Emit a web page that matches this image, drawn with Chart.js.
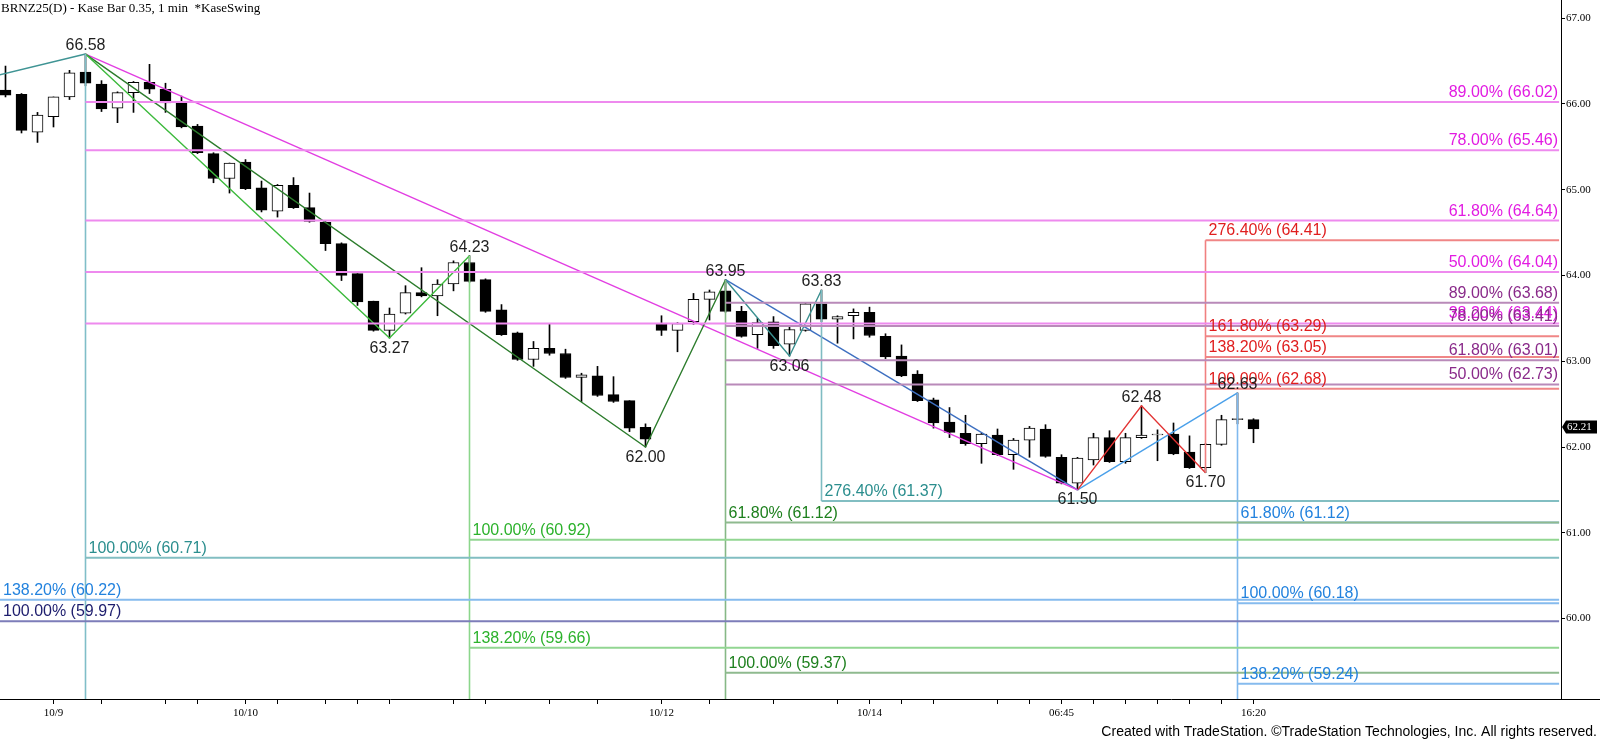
<!DOCTYPE html>
<html>
<head>
<meta charset="utf-8">
<title>BRNZ25 Kase Bar</title>
<script src="https://cdn.jsdelivr.net/npm/chart.js@4.4.1/dist/chart.umd.min.js"></script>
<style>
    html, body { margin: 0; padding: 0; background: #fff; }
    #contenedor { width: 1600px; height: 739px; position: relative; }
</style>
</head>
<body>
<div id="contenedor"><canvas id="grafico"></canvas></div>
<script>
// Precios de cada barra (el índice es la posición de la barra)
const aperturas = [66.16, 66.11, 65.67, 65.85, 66.08, 66.37, 66.23, 65.95, 66.13, 66.25,
    66.17, 66.01, 65.74, 65.42, 65.13, 65.32, 65.02, 64.75, 65.05, 64.79,
    64.62, 64.37, 64.02, 63.70, 63.36, 63.56, 63.80, 63.76, 63.90, 64.15,
    63.95, 63.60, 63.33, 63.02, 63.15, 63.09, 62.81, 62.83, 62.61, 62.54,
    62.23, 63.44, 63.36, 63.46, 63.72, 63.82, 63.58, 63.31, 63.46, 63.20,
    63.36, 63.67, 63.49, 63.53, 63.57, 63.29, 63.06, 62.85, 62.55, 62.29,
    62.16, 62.04, 62.14, 61.91, 62.08, 62.21, 61.88, 61.58, 61.85, 62.11,
    61.83, 62.11, 62.14, 62.15, 61.94, 61.76, 62.03, 62.32, 62.32];
const maximos = [66.44, 66.12, 65.90, 66.08, 66.39, 66.58, 66.27, 66.14, 66.26, 66.46,
    66.24, 66.09, 65.76, 65.43, 65.31, 65.35, 65.10, 65.06, 65.14, 64.96,
    64.63, 64.38, 64.02, 63.70, 63.62, 63.88, 64.09, 63.95, 64.17, 64.23,
    63.96, 63.66, 63.34, 63.23, 63.44, 63.14, 62.86, 62.94, 62.82, 62.54,
    62.27, 63.53, 63.45, 63.79, 63.83, 63.95, 63.64, 63.50, 63.52, 63.41,
    63.68, 63.83, 63.53, 63.61, 63.63, 63.32, 63.19, 62.89, 62.57, 62.46,
    62.37, 62.16, 62.21, 62.10, 62.24, 62.26, 61.91, 61.88, 62.16, 62.19,
    62.16, 62.48, 62.20, 62.28, 62.13, 62.04, 62.37, 62.63, 62.33];
const minimos = [66.08, 65.66, 65.55, 65.73, 66.05, 66.21, 65.91, 65.78, 65.90, 66.12,
    65.90, 65.72, 65.42, 65.08, 64.96, 65.00, 64.74, 64.68, 64.78, 64.62,
    64.29, 63.94, 63.65, 63.35, 63.27, 63.55, 63.75, 63.53, 63.82, 63.92,
    63.57, 63.30, 63.01, 62.94, 63.07, 62.80, 62.53, 62.59, 62.52, 62.18,
    62.00, 63.30, 63.11, 63.43, 63.48, 63.57, 63.28, 63.15, 63.15, 63.06,
    63.35, 63.46, 63.21, 63.26, 63.28, 63.03, 62.82, 62.53, 62.22, 62.11,
    62.02, 61.81, 61.90, 61.74, 61.88, 61.88, 61.57, 61.50, 61.79, 61.82,
    61.81, 62.10, 61.84, 61.91, 61.75, 61.70, 62.02, 62.27, 62.05];
const cierres = [66.10, 65.69, 65.87, 66.08, 66.36, 66.24, 65.94, 66.13, 66.25, 66.17,
    66.01, 65.73, 65.43, 65.13, 65.31, 65.01, 64.76, 65.05, 64.79, 64.63,
    64.37, 64.00, 63.69, 63.36, 63.55, 63.80, 63.76, 63.90, 64.15, 63.93,
    63.58, 63.31, 63.02, 63.15, 63.09, 62.81, 62.84, 62.60, 62.53, 62.22,
    62.09, 63.36, 63.44, 63.72, 63.81, 63.58, 63.29, 63.45, 63.18, 63.37,
    63.67, 63.49, 63.52, 63.57, 63.30, 63.05, 62.83, 62.54, 62.28, 62.17,
    62.04, 62.15, 61.91, 62.08, 62.22, 61.89, 61.58, 61.87, 62.11, 61.83,
    62.11, 62.14, 62.152, 61.92, 61.76, 62.03, 62.32, 62.332, 62.21];

// Marcas del eje X (posición de barra) y las que llevan texto
const ticksX = [3, 6, 10, 12, 15, 17, 20, 22, 24, 28, 30, 34, 37, 41, 44, 48,
    52, 54, 56, 58, 62, 64, 66, 68, 70, 72, 74, 76, 78];
const posFechas = [3, 15, 41, 54, 66, 78];
const textoFechas = ['10/9', '10/10', '10/12', '10/14', '06:45', '16:20'];

// Marcas del eje de precios
const ticksY = [60, 61, 62, 63, 64, 65, 66, 67];

// Rango visible de los ejes
const xMin = -0.34375;
const xMax = 97.21875;
const yMin = 59.063;
const yMax = 67.21;
const finLineas = 97.1;

// Puntos de giro (KaseSwing) con su precio
const swingIdx = [5, 24, 29, 40, 45, 49, 51, 67, 71, 75, 77];
const swingPrecio = [66.58, 63.27, 64.23, 62.00, 63.95, 63.06, 63.83, 61.50, 62.48, 61.70, 62.63];

// Tramos en zigzag [barra, precio]
const zigTealPrevio = [[-1, 66.31], [5, 66.58]];
const zigVerde = [[5, 66.58], [24, 63.27], [29, 64.23]];
const zigVerdeOscuro = [[5, 66.58], [40, 62.00], [45, 63.95]];
const zigMagenta = [[5, 66.58], [67, 61.50]];
const zigTeal = [[45, 63.95], [49, 63.06], [51, 63.83]];
const zigAzulOscuro = [[45, 63.95], [67, 61.50]];
const zigRojo = [[67, 61.50], [71, 62.48], [75, 61.70]];
const zigAzul = [[67, 61.50], [77, 62.63]];

// Niveles de Fibonacci [porcentaje, precio]
const nivelesNavy = [[100.00, 59.97]];
const nivelesAzulIzq = [[138.20, 60.22]];
const nivelesTeal = [[100.00, 60.71]];
const nivelesVerde = [[100.00, 60.92], [138.20, 59.66]];
const nivelesVerdeOscuro = [[61.80, 61.12], [100.00, 59.37]];
const nivelesTeal2 = [[276.40, 61.37]];
const nivelesMagenta = [[89.00, 66.02], [78.00, 65.46], [61.80, 64.64], [50.00, 64.04], [38.20, 63.44]];
const nivelesMorado = [[89.00, 63.68], [78.00, 63.41], [61.80, 63.01], [50.00, 62.73]];
const nivelesRojo = [[276.40, 64.41], [161.80, 63.29], [138.20, 63.05], [100.00, 62.68]];
const nivelesAzul = [[61.80, 61.12], [100.00, 60.18], [138.20, 59.24]];

// Verticales [barra, precio arriba, precio abajo] (null = hasta el eje)
const verticales = [[5, 66.58, null], [29, 64.23, null], [45, 63.95, null],
    [51, 63.83, 61.37], [75, 64.41, 61.70], [77, 62.63, null]];

// Estilos de cada grupo de niveles
const grupos = [
    { niveles: nivelesNavy, desde: null, linea: '#7d7db9', texto: '#1d1d6d', alinear: 'izq' },
    { niveles: nivelesAzulIzq, desde: null, linea: '#86bbee', texto: '#2282de', alinear: 'izq' },
    { niveles: nivelesTeal, desde: 5, linea: '#82bec2', texto: '#2b8e8e', alinear: 'izq' },
    { niveles: nivelesVerde, desde: 29, linea: '#92d692', texto: '#2cb22c', alinear: 'izq' },
    { niveles: nivelesVerdeOscuro, desde: 45, linea: '#8fba8f', texto: '#1e801e', alinear: 'izq' },
    { niveles: nivelesTeal2, desde: 51, linea: '#82bec2', texto: '#2b8e8e', alinear: 'izq' },
    { niveles: nivelesMagenta, desde: 5, linea: '#ee8aee', texto: '#e21be2', alinear: 'der' },
    { niveles: nivelesMorado, desde: 45, linea: '#b98ab9', texto: '#8a2a8a', alinear: 'der' },
    { niveles: nivelesRojo, desde: 75, linea: '#f08686', texto: '#e01e1e', alinear: 'izq' },
    { niveles: nivelesAzul, desde: 77, linea: '#86bbee', texto: '#2282de', alinear: 'izq' }
];

const coloresVerticales = ['#80bec8', '#8cd68c', '#86b886', '#7fbcc2', '#f08080', '#80b9ee'];

const zigzags = [
    [zigTealPrevio, '#3f9494'],
    [zigVerde, '#3dba3d'],
    [zigVerdeOscuro, '#2c7c2c'],
    [zigMagenta, '#e23ee2'],
    [zigTeal, '#3a9090'],
    [zigAzulOscuro, '#3d6fc0'],
    [zigRojo, '#e23232'],
    [zigAzul, '#4aa0ea']
];

// Función para crear un dataset de línea simple
function crearLinea(puntos, color, grosor) {
    return {
        type: 'line',
        data: puntos.map(p => ({ x: p[0], y: p[1] })),
        borderColor: color,
        borderWidth: grosor,
        pointRadius: 0,
        fill: false,
        tension: 0,
        order: 1
    };
}

// Función para armar todos los datasets
function construirDatasets() {
    const datasets = [];

    // Mechas
    datasets.push({
        type: 'bar',
        data: aperturas.map((_, i) => ({ x: i, y: [minimos[i], maximos[i]] })),
        backgroundColor: '#000',
        barThickness: 1,
        grouped: false,
        order: 3
    });

    // Cuerpos
    datasets.push({
        type: 'bar',
        data: aperturas.map((o, i) => ({ x: i, y: [o, cierres[i]] })),
        backgroundColor: aperturas.map((o, i) => cierres[i] > o ? '#fff' : '#000'),
        borderColor: '#000',
        borderWidth: 1,
        borderSkipped: false,
        barThickness: 11,
        grouped: false,
        order: 2
    });

    // Niveles horizontales
    grupos.forEach(g => {
        g.niveles.forEach(([pct, precio]) => {
            const inicio = g.desde === null ? xMin : g.desde;
            datasets.push(crearLinea([[inicio, precio], [finLineas, precio]], g.linea, 2));
        });
    });

    // Verticales
    verticales.forEach(([idx, arriba, abajo], k) => {
        datasets.push(crearLinea([[idx, arriba], [idx, abajo === null ? yMin : abajo]], coloresVerticales[k], 1.6));
    });

    // Zigzags
    zigzags.forEach(([puntos, color]) => {
        datasets.push(crearLinea(puntos, color, 1.4));
    });

    return datasets;
}

// Plugin para textos: niveles, giros, título y pie
const textos = {
    id: 'textos',
    afterDatasetsDraw(chart) {
        const { ctx, chartArea, scales: { x, y } } = chart;
        ctx.save();
        ctx.font = '16px "Liberation Sans", Arial, sans-serif';
        ctx.textBaseline = 'alphabetic';

        grupos.forEach(g => {
            ctx.fillStyle = g.texto;
            g.niveles.forEach(([pct, precio]) => {
                const py = y.getPixelForValue(precio);
                const txt = pct.toFixed(2) + '% (' + precio.toFixed(2) + ')';
                if (g.alinear === 'der') {
                    ctx.textAlign = 'right';
                    ctx.fillText(txt, x.getPixelForValue(finLineas) - 1, py - 5);
                } else {
                    ctx.textAlign = 'left';
                    const x0 = g.desde === null ? chartArea.left + 3 : x.getPixelForValue(g.desde) + 3;
                    ctx.fillText(txt, x0, py - 5);
                }
            });
        });

        // Precios de los giros
        ctx.fillStyle = '#1e1e1e';
        ctx.textAlign = 'center';
        swingIdx.forEach((idx, k) => {
            const precio = swingPrecio[k];
            const px = x.getPixelForValue(idx);
            const py = y.getPixelForValue(precio);
            const esMaximo = precio === maximos[idx];
            ctx.fillText(precio.toFixed(2), px, esMaximo ? py - 4 : py + 14.5);
        });
        ctx.restore();
    },
    afterDraw(chart) {
        const { ctx, chartArea, scales: { y } } = chart;
        ctx.save();

        // Título
        ctx.fillStyle = '#000';
        ctx.font = '13px "Liberation Serif", "Times New Roman", serif';
        ctx.textAlign = 'left';
        ctx.textBaseline = 'alphabetic';
        ctx.fillText('BRNZ25(D) - Kase Bar 0.35, 1 min  *KaseSwing', 1, 12);

        // Prolongación del eje X bajo la escala de precios
        ctx.strokeStyle = '#000';
        ctx.lineWidth = 1;
        ctx.beginPath();
        ctx.moveTo(chartArea.right, chartArea.bottom + 0.5);
        ctx.lineTo(chart.width, chartArea.bottom + 0.5);
        ctx.stroke();

        // Último precio
        const ultimo = cierres[cierres.length - 1];
        const py = y.getPixelForValue(ultimo) - 2;
        const ax = chartArea.right + 1;
        ctx.fillStyle = '#000';
        ctx.beginPath();
        ctx.moveTo(ax, py);
        ctx.lineTo(ax + 4, py - 6.5);
        ctx.lineTo(chart.width - 3, py - 6.5);
        ctx.lineTo(chart.width - 3, py + 6.5);
        ctx.lineTo(ax + 4, py + 6.5);
        ctx.closePath();
        ctx.fill();
        ctx.fillStyle = '#fff';
        ctx.font = '11px "Liberation Serif", serif';
        ctx.textBaseline = 'middle';
        ctx.fillText(ultimo.toFixed(2), ax + 5, py + 0.5);

        // Pie
        ctx.fillStyle = '#000';
        ctx.font = '14px "Liberation Sans", Arial, sans-serif';
        ctx.textAlign = 'right';
        ctx.textBaseline = 'alphabetic';
        ctx.fillText('Created with TradeStation. \u00A9TradeStation Technologies, Inc. All rights reserved.', chart.width - 3, 736);
        ctx.restore();
    }
};

// Inicialización del gráfico
document.addEventListener('DOMContentLoaded', () => {
    const ctx = document.getElementById('grafico').getContext('2d');
    new Chart(ctx, {
        type: 'bar',
        data: { datasets: construirDatasets() },
        options: {
            responsive: true,
            maintainAspectRatio: false,
            animation: false,
            layout: { padding: 0 },
            plugins: {
                legend: { display: false },
                tooltip: { enabled: false }
            },
            scales: {
                x: {
                    type: 'linear',
                    min: xMin,
                    max: xMax,
                    offset: false,
                    grid: { offset: false, drawOnChartArea: false, drawTicks: true, tickLength: 5, color: '#000' },
                    border: { color: '#000', width: 1 },
                    ticks: {
                        autoSkip: false,
                        maxRotation: 0,
                        color: '#000',
                        padding: 3,
                        font: { family: '"Liberation Serif", serif', size: 11 },
                        callback: (v) => {
                            const k = posFechas.indexOf(v);
                            return k >= 0 ? textoFechas[k] : '';
                        }
                    },
                    afterBuildTicks: (s) => { s.ticks = ticksX.map(v => ({ value: v })); },
                    afterFit: (s) => { s.height = 40; s.paddingLeft = 0; s.paddingRight = 0; }
                },
                y: {
                    type: 'linear',
                    position: 'right',
                    min: yMin,
                    max: yMax,
                    beginAtZero: false,
                    grid: { drawOnChartArea: false, tickLength: 4, color: '#000' },
                    border: { color: '#000', width: 1 },
                    ticks: {
                        color: '#000',
                        padding: 1,
                        font: { family: '"Liberation Serif", serif', size: 11 },
                        callback: (v) => v.toFixed(2)
                    },
                    afterBuildTicks: (s) => { s.ticks = ticksY.map(v => ({ value: v })); },
                    afterFit: (s) => { s.width = 39; s.paddingTop = 0; s.paddingBottom = 0; }
                }
            }
        },
        plugins: [textos]
    });
});
</script>
</body>
</html>
